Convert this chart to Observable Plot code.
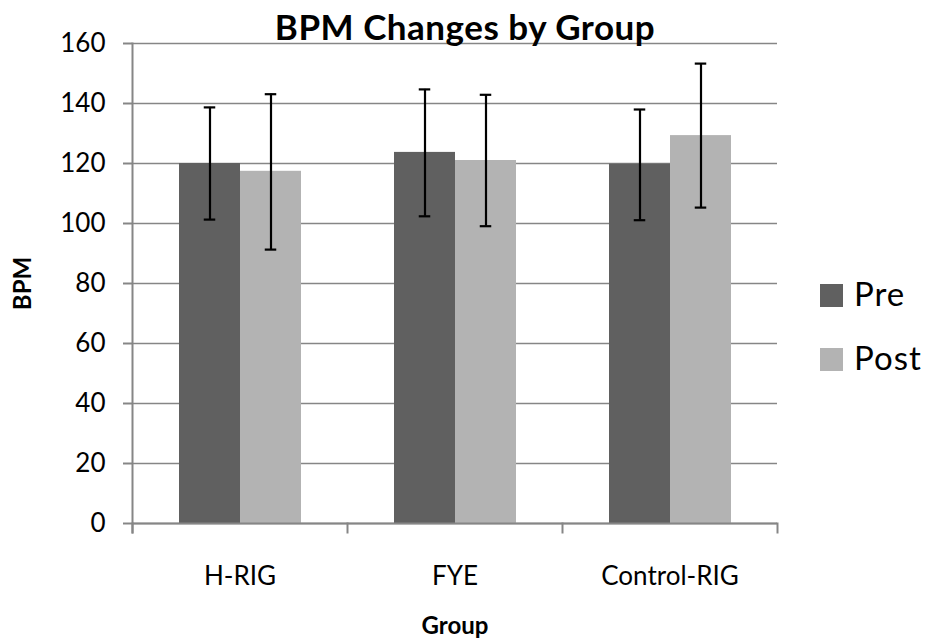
<!DOCTYPE html>
<html>
<head>
<meta charset="utf-8">
<script src="https://cdn.jsdelivr.net/npm/d3@7"></script>
<script src="https://cdn.jsdelivr.net/npm/@observablehq/plot@0.6"></script>
<style>
  html, body { margin: 0; padding: 0; background: #fff; }
  #wrap { position: relative; width: 928px; height: 640px; font-family: Lato, "Open Sans", sans-serif; }
  #title { position: absolute; left: 0; width: 930px; top: 6px; text-align: center; font-weight: bold; font-size: 35px; letter-spacing: 0.5px; line-height: 40px; color: #000; white-space: nowrap; }
  .sw { position: absolute; left: 820px; width: 23px; height: 23px; }
  .lt { position: absolute; left: 854px; font-size: 33px; line-height: 33px; letter-spacing: 1px; color: #000; white-space: nowrap; }
  g[aria-label="y-axis label"] text, g[aria-label="fx-axis label"] text { font-weight: bold !important; font-size: 24px !important; }
</style>
</head>
<body>
<div id="wrap">
  <div id="chart"></div>
  <div id="title">BPM Changes by Group</div>
  <div id="legend"></div>
</div>
<script>
const groups = ["H-RIG", "FYE", "Control-RIG"];
const series = ["Pre", "Post"];
const preMean  = [120.0, 123.7, 119.8];
const postMean = [117.4, 121.0, 129.3];
const preLow   = [101.3, 102.4, 101.1];
const preHigh  = [138.7, 144.7, 138.0];
const postLow  = [91.3, 99.1, 105.3];
const postHigh = [143.1, 142.9, 153.3];
const yTicks = [0, 20, 40, 60, 80, 100, 120, 140, 160];
const colors = ["#606060", "#b3b3b3"];

const data = groups.flatMap((g, i) => [
  {group: g, series: "Pre",  value: preMean[i],  low: preLow[i],  high: preHigh[i]},
  {group: g, series: "Post", value: postMean[i], low: postLow[i], high: postHigh[i]}
]);

const axisGray = "#868686";

const chart = Plot.plot({
  width: 928,
  height: 640,
  marginLeft: 131,
  marginRight: 151,
  marginTop: 43,
  marginBottom: 117,
  style: {fontFamily: "Lato, 'Open Sans', sans-serif", fontSize: "26px", color: "#000", background: "white", overflow: "visible"},
  fx: {domain: groups, padding: 0},
  x: {domain: series, paddingInner: 0, paddingOuter: 0.75, axis: null},
  y: {domain: [0, 160]},
  color: {domain: series, range: colors},
  marks: [
    Plot.gridY(yTicks, {stroke: axisGray, strokeOpacity: 1, strokeWidth: 1.5}),
    Plot.barY(data, {fx: "group", x: "series", y: "value", fill: "series"}),
    Plot.ruleX(data, {fx: "group", x: "series", y1: "low", y2: "high", stroke: "#000", strokeWidth: 2.2}),
    Plot.tickY(data, {fx: "group", x: "series", y: "low", stroke: "#000", strokeWidth: 2.2, inset: 24.75}),
    Plot.tickY(data, {fx: "group", x: "series", y: "high", stroke: "#000", strokeWidth: 2.2, inset: 24.75}),
    Plot.ruleY([0], {stroke: axisGray, strokeWidth: 2}),
    Plot.frame({anchor: "left", facetAnchor: "left", stroke: axisGray, strokeWidth: 2, insetBottom: -9}),
    Plot.frame({anchor: "left", stroke: axisGray, strokeWidth: 2, insetTop: 480, insetBottom: -9}),
    Plot.frame({anchor: "right", facetAnchor: "right", stroke: axisGray, strokeWidth: 2, insetTop: 480, insetBottom: -9}),
    Plot.axisY(yTicks, {anchor: "left", tickSize: 9, tickPadding: 18, stroke: axisGray, strokeWidth: 2, color: "#000",
      label: "BPM", labelAnchor: "center", labelArrow: "none", labelOffset: 119}),
    Plot.axisFx({anchor: "bottom", tickSize: 0, tickPadding: 43, color: "#000",
      label: "Group", labelAnchor: "center", labelArrow: "none", labelOffset: 110})
  ]
});
document.getElementById("chart").appendChild(chart);

const legend = document.getElementById("legend");
series.forEach((s, i) => {
  const sw = document.createElement("div");
  sw.className = "sw";
  sw.style.background = colors[i];
  sw.style.top = (284 + i * 64) + "px";
  const t = document.createElement("div");
  t.className = "lt";
  t.textContent = s;
  t.style.top = (277 + i * 64) + "px";
  legend.appendChild(sw);
  legend.appendChild(t);
});
</script>
</body>
</html>
